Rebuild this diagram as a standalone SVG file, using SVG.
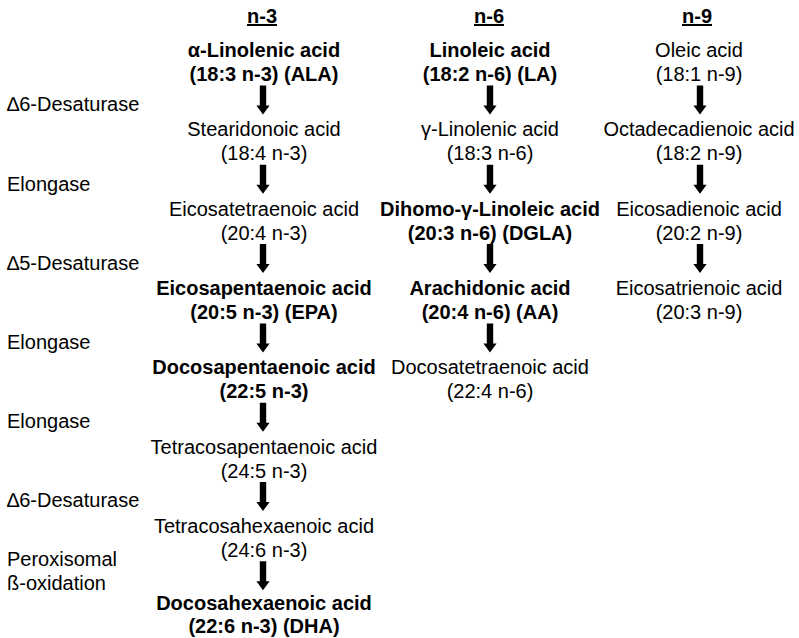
<svg xmlns="http://www.w3.org/2000/svg" width="799" height="638" viewBox="0 0 799 638">
<style>
text{font-family:"Liberation Sans",Arial,sans-serif;font-size:20px;fill:#000}
.c{text-anchor:middle}
.b{font-weight:bold}
.h{font-weight:bold;text-decoration:underline}
.arrow{fill:#000}
</style>
<defs>
<path id="arr" d="M-3.2,0 H3.2 V20 H6.6 L0,29 L-6.6,20 H-3.2 Z"/>
</defs>
<rect width="799" height="638" fill="#fff"/>
<g id="headers">
<text class="c h" x="262" y="23">n-3</text>
<text class="c h" x="489" y="23">n-6</text>
<text class="c h" x="697" y="23">n-9</text>
</g>
<g id="enzymes">
<text x="7" y="111">∆6-Desaturase</text>
<text x="7" y="191">Elongase</text>
<text x="7" y="270">∆5-Desaturase</text>
<text x="7" y="349">Elongase</text>
<text x="7" y="428">Elongase</text>
<text x="7" y="507">∆6-Desaturase</text>
<text x="7" y="566">Peroxisomal</text>
<text x="7" y="590">ß-oxidation</text>
</g>
<g id="n3-ALA"><text class="c b" x="264" y="57">α-Linolenic acid</text><text class="c b" x="264" y="81">(18:3 n-3) (ALA)</text></g>
<g id="n3-SDA"><text class="c" x="264" y="136.3">Stearidonoic acid</text><text class="c" x="264" y="160.3">(18:4 n-3)</text></g>
<g id="n3-ETA"><text class="c" x="264" y="215.6">Eicosatetraenoic acid</text><text class="c" x="264" y="239.6">(20:4 n-3)</text></g>
<g id="n3-EPA"><text class="c b" x="264" y="294.9">Eicosapentaenoic acid</text><text class="c b" x="264" y="318.9">(20:5 n-3) (EPA)</text></g>
<g id="n3-DPA"><text class="c b" x="264" y="374.2">Docosapentaenoic acid</text><text class="c b" x="264" y="398.2">(22:5 n-3)</text></g>
<g id="n3-TPA"><text class="c" x="264" y="453.5">Tetracosapentaenoic acid</text><text class="c" x="264" y="477.5">(24:5 n-3)</text></g>
<g id="n3-THA"><text class="c" x="264" y="532.8">Tetracosahexaenoic acid</text><text class="c" x="264" y="556.8">(24:6 n-3)</text></g>
<g id="n3-DHA"><text class="c b" x="264" y="610">Docosahexaenoic acid</text><text class="c b" x="264" y="633">(22:6 n-3) (DHA)</text></g>
<g id="n6-LA"><text class="c b" x="490" y="57">Linoleic acid</text><text class="c b" x="490" y="81">(18:2 n-6) (LA)</text></g>
<g id="n6-GLA"><text class="c" x="490" y="136.3">γ-Linolenic acid</text><text class="c" x="490" y="160.3">(18:3 n-6)</text></g>
<g id="n6-DGLA"><text class="c b" x="490" y="215.6">Dihomo-γ-Linoleic acid</text><text class="c b" x="490" y="239.6">(20:3 n-6) (DGLA)</text></g>
<g id="n6-AA"><text class="c b" x="490" y="294.9">Arachidonic acid</text><text class="c b" x="490" y="318.9">(20:4 n-6) (AA)</text></g>
<g id="n6-DTA"><text class="c" x="490" y="374.2">Docosatetraenoic acid</text><text class="c" x="490" y="398.2">(22:4 n-6)</text></g>
<g id="n9-OA"><text class="c" x="699" y="57">Oleic acid</text><text class="c" x="699" y="81">(18:1 n-9)</text></g>
<g id="n9-ODA"><text class="c" x="699" y="136.3">Octadecadienoic acid</text><text class="c" x="699" y="160.3">(18:2 n-9)</text></g>
<g id="n9-EDA"><text class="c" x="699" y="215.6">Eicosadienoic acid</text><text class="c" x="699" y="239.6">(20:2 n-9)</text></g>
<g id="n9-ETrA"><text class="c" x="699" y="294.9">Eicosatrienoic acid</text><text class="c" x="699" y="318.9">(20:3 n-9)</text></g>
<g id="connectors" class="arrow">
<use href="#arr" x="263" y="85.5"/>
<use href="#arr" x="263" y="164.8"/>
<use href="#arr" x="263" y="244.1"/>
<use href="#arr" x="263" y="323.4"/>
<use href="#arr" x="263" y="402.7"/>
<use href="#arr" x="263" y="482"/>
<use href="#arr" x="263" y="561.3"/>
<use href="#arr" x="490" y="85.5"/>
<use href="#arr" x="490" y="164.8"/>
<use href="#arr" x="490" y="244.1"/>
<use href="#arr" x="490" y="323.4"/>
<use href="#arr" x="700" y="85.5"/>
<use href="#arr" x="700" y="164.8"/>
<use href="#arr" x="700" y="244.1"/>
</g>
</svg>
